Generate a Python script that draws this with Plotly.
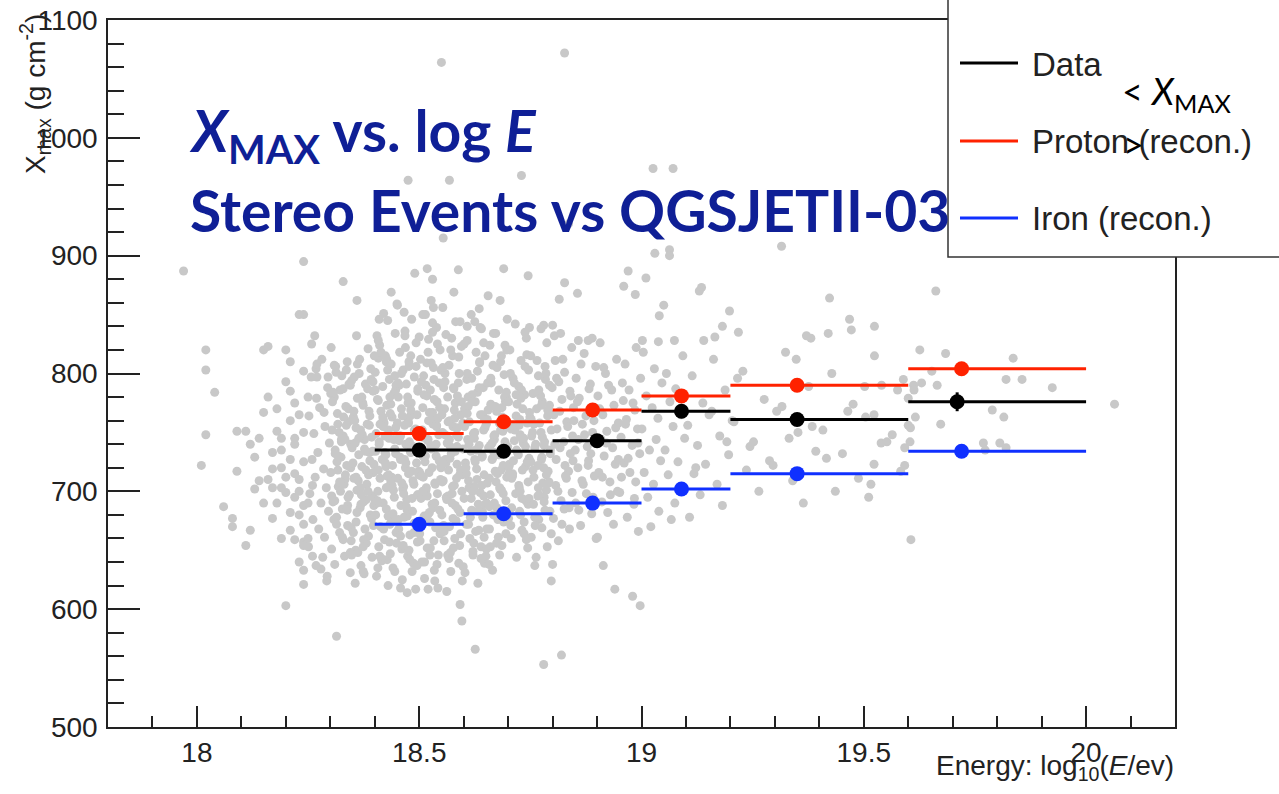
import plotly.graph_objects as go

# ---------------- binned means ----------------
bin_lo = [18.4, 18.6, 18.8, 19.0, 19.2, 19.6]
bin_hi = [18.6, 18.8, 19.0, 19.2, 19.6, 20.0]
data_x = [18.50, 18.69, 18.90, 19.09, 19.35, 19.71]
data_y = [735, 734, 743, 768, 761, 776]
data_err = [4, 4, 4, 5, 5, 8]
proton_x = [18.50, 18.69, 18.89, 19.09, 19.35, 19.72]
proton_y = [749, 759, 769, 781, 790, 804]
iron_x = [18.50, 18.69, 18.89, 19.09, 19.35, 19.72]
iron_y = [672, 681, 690, 702, 715, 734]

# ---------------- individual stereo events (logE, Xmax) ----------------
events_outer = [
    (17.97, 887), (18.02, 820), (18.02, 803), (18.04, 784), (18.02, 748), (18.01, 722), (18.06, 687),
    (18.08, 677), (18.08, 670), (18.09, 717), (18.09, 751), (18.11, 751), (18.11, 654), (18.12, 667),
    (18.13, 729), (18.14, 709), (18.13, 702), (18.15, 820), (18.16, 823), (18.20, 820), (18.21, 810),
    (18.20, 793), (18.21, 785), (18.15, 767), (18.18, 751), (18.17, 733), (18.21, 727), (18.17, 719),
    (18.19, 720), (18.17, 703), (18.19, 703), (18.20, 699), (18.15, 690), (18.17, 677), (18.21, 682),
    (18.21, 667), (18.22, 659), (18.23, 680), (18.24, 657), (18.24, 654), (18.24, 672), (18.24, 633),
    (18.24, 621), (18.20, 603), (18.24, 850), (18.24, 802), (18.24, 750), (18.24, 895), (18.23, 850),
    (18.22, 740), (18.23, 710), (18.22, 695), (18.24, 688), (18.23, 765), (18.19, 745), (18.24, 725),
    (18.21, 760), (18.268, 804), (18.27, 797), (18.295, 797), (18.286, 767), (18.265, 832),
    (18.258, 825), (18.279, 634), (18.292, 624), (18.309, 807), (18.336, 803), (18.329, 787),
    (18.345, 790), (18.329, 878), (18.314, 577), (18.36, 862), (18.356, 622), (18.374, 632),
    (18.437, 869), (18.42, 851), (18.41, 846), (18.405, 832), (18.408, 813), (18.426, 810),
    (18.407, 635), (18.428, 642), (18.445, 632), (18.45, 859), (18.466, 852), (18.458, 618),
    (18.473, 614), (18.49, 885), (18.475, 964), (18.508, 850), (18.532, 856), (18.53, 843),
    (18.5, 831), (18.518, 889), (18.53, 880), (18.52, 617), (18.535, 624), (18.54, 638),
    (18.55, 1064), (18.554, 915), (18.568, 964), (18.578, 869), (18.592, 844), (18.588, 888),
    (18.596, 590), (18.608, 840), (18.625, 844), (18.637, 839), (18.635, 855), (18.645, 826),
    (18.626, 566), (18.65, 645), (18.66, 653), (18.655, 866), (18.682, 862), (18.667, 834),
    (18.693, 824), (18.69, 889), (18.665, 633), (18.738, 835), (18.748, 839), (18.745, 883),
    (18.73, 968), (18.78, 841), (18.8, 841), (18.797, 624), (18.8, 638), (18.76, 637), (18.78, 553),
    (18.804, 832), (18.827, 877), (18.815, 863), (18.827, 1072), (18.836, 927), (18.82, 561),
    (18.856, 868), (18.858, 828), (18.88, 828), (18.914, 637), (18.94, 617), (18.97, 887),
    (18.96, 874), (18.986, 867), (18.98, 611), (18.997, 603), (19.01, 881), (19.002, 828),
    (19.038, 827), (19.04, 849), (19.05, 858), (19.03, 902), (19.026, 974), (19.063, 905),
    (19.063, 900), (19.071, 974), (19.074, 828), (19.135, 873), (19.13, 870), (19.14, 828),
    (19.165, 831), (19.198, 853), (19.182, 840), (19.218, 835), (19.315, 908), (19.371, 832),
    (19.381, 830), (19.423, 864), (19.468, 846), (19.472, 837), (19.42, 834), (19.524, 840),
    (19.502, 789), (19.523, 765), (19.539, 741), (19.523, 723), (19.511, 695), (19.583, 717),
    (19.589, 795), (19.592, 737), (19.662, 870), (19.626, 820), (19.684, 817), (19.836, 813),
    (19.653, 802), (19.63, 792), (19.612, 790), (19.613, 786), (19.665, 790), (19.82, 795),
    (19.856, 795), (19.924, 788), (20.064, 774), (19.6, 779), (19.789, 769), (19.815, 763),
    (19.616, 763), (19.673, 757), (19.6, 756), (19.605, 754), (19.604, 742), (19.769, 741),
    (19.806, 741), (19.773, 735), (19.82, 737), (19.606, 659),
    (18.16, 780), (18.18, 770), (18.14, 745), (18.19, 735), (18.16, 710), (18.22, 715), (18.18, 690),
    (18.23, 700), (18.20, 712), (18.22, 745), (18.25, 690), (18.26, 705), (18.12, 740), (18.22, 775),
    (18.19, 660), (18.23, 640), (18.26, 645), (18.25, 660), (18.27, 808), (18.25, 780),
]

events_1825 = [
    (18.281, 812), (18.257, 797), (18.294, 788), (18.269, 779), (18.276, 771), (18.252, 764),
    (18.288, 755), (18.263, 749), (18.298, 741), (18.272, 733), (18.259, 727), (18.285, 719),
    (18.266, 712), (18.291, 703), (18.254, 698), (18.279, 690), (18.296, 683), (18.261, 676),
    (18.274, 668), (18.287, 661), (18.251, 653), (18.283, 644), (18.268, 637), (18.293, 628),
]
events_1830 = [
    (18.302, 822), (18.338, 810), (18.313, 801), (18.348, 794), (18.322, 786), (18.309, 780),
    (18.335, 772), (18.316, 766), (18.341, 759), (18.304, 752), (18.329, 747), (18.346, 740),
    (18.311, 735), (18.324, 729), (18.337, 722), (18.301, 716), (18.333, 710), (18.318, 704),
    (18.343, 697), (18.306, 691), (18.327, 685), (18.314, 678), (18.339, 671), (18.321, 665),
    (18.347, 658), (18.303, 651), (18.332, 645), (18.310, 638), (18.345, 631), (18.325, 742),
    (18.317, 718), (18.340, 695),
    (18.312, 806), (18.342, 791), (18.305, 776), (18.330, 763), (18.320, 750), (18.349, 737),
    (18.315, 725), (18.334, 714), (18.323, 700), (18.339, 688), (18.308, 676), (18.327, 661),
    (18.345, 648), (18.301, 783), (18.336, 756), (18.318, 730), (18.331, 706), (18.310, 692),
    (18.347, 669), (18.325, 744),
    (18.326, 798), (18.306, 784), (18.341, 770), (18.317, 757), (18.333, 744), (18.311, 732),
    (18.346, 720), (18.321, 708), (18.303, 696), (18.338, 684), (18.314, 672), (18.329, 659),
    (18.348, 646),
]
events_1835 = [
    (18.359, 832), (18.385, 821), (18.366, 812), (18.391, 804), (18.354, 797), (18.379, 791),
    (18.396, 785), (18.361, 779), (18.374, 773), (18.387, 768), (18.351, 762), (18.383, 757),
    (18.368, 752), (18.393, 746), (18.356, 741), (18.377, 736), (18.364, 731), (18.389, 726),
    (18.371, 721), (18.397, 716), (18.353, 711), (18.382, 706), (18.360, 701), (18.395, 696),
    (18.375, 691), (18.367, 686), (18.390, 680), (18.358, 674), (18.378, 668), (18.386, 662),
    (18.381, 656), (18.357, 650), (18.394, 644), (18.369, 637), (18.376, 630), (18.352, 763),
    (18.388, 733), (18.363, 709), (18.398, 688), (18.372, 748),
    (18.399, 815), (18.365, 800), (18.384, 787), (18.373, 775), (18.389, 764), (18.358, 754),
    (18.377, 744), (18.395, 734), (18.351, 724), (18.386, 714), (18.368, 703), (18.381, 693),
    (18.360, 682), (18.397, 671), (18.375, 659), (18.362, 648), (18.392, 795), (18.355, 760),
    (18.380, 718), (18.370, 697),
    (18.361, 808), (18.396, 793), (18.371, 780), (18.353, 768), (18.388, 756), (18.364, 745),
    (18.379, 734), (18.398, 723), (18.358, 712), (18.385, 700), (18.369, 689), (18.393, 677),
    (18.352, 665), (18.374, 653),
]
events_1840 = [
    (18.429, 845), (18.446, 834), (18.411, 824), (18.424, 815), (18.437, 808), (18.401, 801),
    (18.433, 795), (18.418, 789), (18.443, 783), (18.406, 778), (18.427, 773), (18.414, 768),
    (18.439, 763), (18.421, 758), (18.447, 754), (18.403, 749), (18.432, 745), (18.410, 740),
    (18.445, 736), (18.425, 731), (18.417, 727), (18.440, 722), (18.408, 718), (18.428, 713),
    (18.436, 709), (18.431, 704), (18.407, 700), (18.444, 695), (18.419, 690), (18.426, 685),
    (18.402, 680), (18.438, 675), (18.413, 670), (18.448, 665), (18.422, 659), (18.409, 653),
    (18.435, 647), (18.416, 641), (18.441, 635), (18.404, 628), (18.430, 620), (18.447, 786),
    (18.412, 757), (18.423, 733), (18.438, 712), (18.400, 693), (18.434, 672), (18.419, 761),
    (18.408, 828), (18.427, 812), (18.445, 798), (18.401, 786), (18.436, 774), (18.418, 763),
    (18.431, 752), (18.410, 742), (18.447, 732), (18.425, 721), (18.412, 711), (18.442, 701),
    (18.405, 690), (18.430, 679), (18.420, 668), (18.449, 656), (18.415, 643), (18.434, 780),
    (18.423, 747), (18.439, 705),
    (18.414, 818), (18.429, 803), (18.448, 790), (18.408, 777), (18.435, 766), (18.419, 755),
    (18.443, 744), (18.402, 734), (18.424, 724), (18.431, 714), (18.426, 703), (18.406, 692),
    (18.441, 681), (18.417, 669), (18.433, 657), (18.411, 645),
]
events_1845 = [
    (18.451, 858), (18.483, 846), (18.468, 836), (18.493, 826), (18.456, 818), (18.477, 810),
    (18.464, 803), (18.489, 797), (18.471, 791), (18.497, 785), (18.453, 780), (18.482, 775),
    (18.460, 770), (18.495, 765), (18.475, 760), (18.467, 756), (18.490, 751), (18.458, 747),
    (18.478, 742), (18.486, 738), (18.481, 733), (18.457, 729), (18.494, 724), (18.469, 720),
    (18.476, 715), (18.452, 711), (18.488, 706), (18.463, 702), (18.498, 697), (18.472, 693),
    (18.459, 688), (18.485, 683), (18.466, 678), (18.491, 673), (18.454, 668), (18.479, 663),
    (18.496, 657), (18.461, 651), (18.474, 645), (18.487, 639), (18.484, 632), (18.462, 625),
    (18.492, 617), (18.455, 790), (18.480, 764), (18.470, 740), (18.499, 717), (18.465, 698),
    (18.473, 679), (18.489, 752), (18.458, 727), (18.477, 806),
    (18.468, 832), (18.481, 815), (18.460, 800), (18.497, 787), (18.475, 775), (18.462, 764),
    (18.492, 753), (18.455, 743), (18.480, 734), (18.470, 724), (18.499, 714), (18.465, 704),
    (18.484, 694), (18.473, 684), (18.489, 673), (18.458, 662), (18.477, 650), (18.495, 637),
    (18.451, 758), (18.486, 709),
    (18.469, 822), (18.493, 806), (18.452, 792), (18.474, 780), (18.481, 769), (18.476, 758),
    (18.456, 747), (18.491, 737), (18.467, 727), (18.483, 717), (18.461, 707), (18.496, 697),
    (18.471, 687), (18.453, 676), (18.488, 665), (18.464, 654), (18.479, 642),
]
events_1850 = [
    (18.527, 862), (18.514, 850), (18.539, 839), (18.521, 829), (18.547, 820), (18.503, 812),
    (18.532, 805), (18.510, 798), (18.545, 792), (18.525, 786), (18.517, 781), (18.540, 776),
    (18.508, 771), (18.528, 766), (18.536, 761), (18.531, 757), (18.507, 752), (18.544, 748),
    (18.519, 743), (18.526, 739), (18.502, 734), (18.538, 730), (18.513, 725), (18.548, 721),
    (18.522, 716), (18.509, 712), (18.535, 707), (18.516, 703), (18.541, 698), (18.504, 694),
    (18.529, 689), (18.546, 684), (18.511, 679), (18.524, 674), (18.537, 669), (18.501, 664),
    (18.533, 658), (18.518, 652), (18.543, 646), (18.506, 640), (18.534, 633), (18.512, 626),
    (18.542, 618), (18.505, 793), (18.530, 767), (18.520, 744), (18.549, 720), (18.515, 701),
    (18.523, 682), (18.539, 755), (18.508, 730), (18.527, 809),
    (18.530, 835), (18.520, 818), (18.549, 803), (18.515, 790), (18.534, 778), (18.523, 767),
    (18.539, 756), (18.508, 746), (18.527, 736), (18.545, 726), (18.501, 716), (18.536, 706),
    (18.518, 696), (18.531, 686), (18.510, 675), (18.547, 664), (18.525, 652), (18.512, 640),
    (18.542, 762), (18.505, 713),
    (18.541, 825), (18.517, 809), (18.533, 795), (18.511, 782), (18.546, 771), (18.521, 760),
    (18.503, 750), (18.538, 740), (18.514, 730), (18.529, 720), (18.548, 710), (18.508, 700),
    (18.535, 690), (18.519, 680), (18.543, 669), (18.502, 658), (18.524, 646),
]
events_1855 = [
    (18.553, 856), (18.582, 844), (18.560, 833), (18.595, 823), (18.575, 815), (18.567, 807),
    (18.590, 800), (18.558, 793), (18.578, 787), (18.586, 781), (18.581, 775), (18.557, 770),
    (18.594, 765), (18.569, 760), (18.576, 755), (18.552, 750), (18.588, 746), (18.563, 741),
    (18.598, 736), (18.572, 732), (18.559, 727), (18.585, 723), (18.566, 718), (18.591, 714),
    (18.554, 709), (18.579, 705), (18.596, 700), (18.561, 695), (18.574, 690), (18.587, 685),
    (18.551, 680), (18.583, 675), (18.568, 670), (18.593, 664), (18.556, 658), (18.577, 652),
    (18.564, 646), (18.589, 639), (18.571, 632), (18.597, 624), (18.562, 615), (18.592, 604),
    (18.555, 788), (18.580, 762), (18.570, 738), (18.599, 716), (18.565, 696), (18.584, 748),
    (18.573, 830), (18.589, 814), (18.558, 800), (18.577, 788), (18.595, 776), (18.551, 765),
    (18.586, 754), (18.568, 744), (18.581, 734), (18.560, 724), (18.597, 714), (18.575, 704),
    (18.562, 693), (18.592, 682), (18.555, 671), (18.580, 660), (18.570, 648), (18.599, 636),
    (18.565, 759), (18.584, 711),
    (18.571, 820), (18.553, 805), (18.588, 792), (18.564, 780), (18.579, 769), (18.598, 758),
    (18.558, 748), (18.585, 738), (18.569, 728), (18.593, 718), (18.552, 708), (18.574, 698),
    (18.581, 688), (18.576, 677), (18.556, 666), (18.591, 654), (18.567, 643),
]
events_1860 = [
    (18.617, 850), (18.640, 838), (18.608, 828), (18.628, 818), (18.636, 810), (18.631, 802),
    (18.607, 795), (18.644, 788), (18.619, 782), (18.626, 776), (18.602, 770), (18.638, 765),
    (18.613, 759), (18.648, 754), (18.622, 749), (18.609, 744), (18.635, 739), (18.616, 734),
    (18.641, 729), (18.604, 724), (18.629, 719), (18.646, 714), (18.611, 709), (18.624, 704),
    (18.637, 699), (18.601, 694), (18.633, 689), (18.618, 684), (18.643, 678), (18.606, 672),
    (18.627, 666), (18.614, 660), (18.639, 653), (18.621, 646), (18.647, 639), (18.603, 631),
    (18.632, 622), (18.610, 780), (18.645, 752), (18.625, 727), (18.612, 703), (18.642, 683),
    (18.601, 825), (18.636, 809), (18.618, 796), (18.631, 784), (18.610, 772), (18.647, 761),
    (18.625, 750), (18.612, 740), (18.642, 730), (18.605, 720), (18.630, 710), (18.620, 700),
    (18.649, 689), (18.615, 678), (18.634, 667), (18.623, 656), (18.639, 643), (18.608, 766),
    (18.627, 735), (18.645, 696),
    (18.648, 815), (18.608, 800), (18.635, 788), (18.619, 776), (18.643, 765), (18.602, 755),
    (18.624, 745), (18.631, 735), (18.626, 725), (18.606, 715), (18.641, 705), (18.617, 694),
    (18.633, 683), (18.611, 672), (18.646, 661), (18.621, 649),
]
events_1865 = [
    (18.698, 846), (18.672, 834), (18.659, 824), (18.685, 815), (18.666, 807), (18.691, 799),
    (18.654, 792), (18.679, 786), (18.696, 780), (18.661, 774), (18.674, 768), (18.687, 763),
    (18.651, 757), (18.683, 752), (18.668, 747), (18.693, 742), (18.656, 737), (18.677, 732),
    (18.664, 727), (18.689, 722), (18.671, 717), (18.697, 712), (18.653, 707), (18.682, 702),
    (18.660, 697), (18.695, 692), (18.675, 686), (18.667, 680), (18.690, 674), (18.658, 668),
    (18.678, 661), (18.686, 654), (18.681, 646), (18.657, 638), (18.694, 776), (18.669, 744),
    (18.676, 715), (18.652, 690),
    (18.697, 820), (18.675, 805), (18.662, 792), (18.692, 780), (18.655, 769), (18.680, 758),
    (18.670, 748), (18.699, 738), (18.665, 728), (18.684, 718), (18.673, 708), (18.689, 698),
    (18.658, 687), (18.677, 676), (18.695, 664), (18.651, 651), (18.686, 771), (18.668, 733),
    (18.681, 703), (18.660, 739),
    (18.683, 810), (18.661, 796), (18.696, 784), (18.671, 772), (18.653, 761), (18.688, 751),
    (18.664, 741), (18.679, 731), (18.698, 721), (18.658, 711), (18.685, 701), (18.669, 690),
    (18.693, 679), (18.652, 668), (18.674, 656),
]
events_1870 = [
    (18.716, 842), (18.741, 830), (18.704, 820), (18.729, 811), (18.746, 803), (18.711, 796),
    (18.724, 789), (18.737, 782), (18.701, 776), (18.733, 770), (18.718, 764), (18.743, 758),
    (18.706, 753), (18.727, 748), (18.714, 743), (18.739, 738), (18.721, 733), (18.747, 728),
    (18.703, 723), (18.732, 718), (18.710, 713), (18.745, 708), (18.725, 703), (18.717, 698),
    (18.740, 692), (18.708, 686), (18.728, 680), (18.736, 674), (18.731, 667), (18.707, 660),
    (18.744, 652), (18.719, 644), (18.726, 761), (18.702, 721),
    (18.742, 816), (18.705, 800), (18.730, 786), (18.720, 774), (18.749, 763), (18.715, 752),
    (18.734, 741), (18.723, 731), (18.739, 721), (18.708, 711), (18.727, 700), (18.745, 689),
    (18.701, 677), (18.736, 664), (18.718, 782), (18.731, 745), (18.710, 715), (18.747, 694),
    (18.725, 756), (18.712, 726),
    (18.738, 806), (18.714, 792), (18.729, 779), (18.748, 767), (18.708, 756), (18.735, 745),
    (18.719, 735), (18.743, 725), (18.702, 715), (18.724, 705), (18.731, 694), (18.726, 683),
    (18.706, 671), (18.741, 659),
]
events_1875 = [
    (18.774, 838), (18.787, 826), (18.751, 815), (18.783, 806), (18.768, 798), (18.793, 790),
    (18.756, 783), (18.777, 776), (18.764, 770), (18.789, 764), (18.771, 758), (18.797, 752),
    (18.753, 747), (18.782, 742), (18.760, 737), (18.795, 732), (18.775, 727), (18.767, 722),
    (18.790, 717), (18.758, 712), (18.778, 707), (18.786, 701), (18.781, 695), (18.757, 689),
    (18.794, 683), (18.769, 676), (18.776, 669), (18.752, 661), (18.788, 653), (18.763, 644),
    (18.765, 811), (18.784, 795), (18.773, 781), (18.789, 769), (18.758, 757), (18.777, 746),
    (18.795, 735), (18.751, 725), (18.786, 714), (18.768, 703), (18.781, 691), (18.760, 678),
    (18.797, 664), (18.775, 773), (18.762, 740), (18.792, 708), (18.755, 750), (18.780, 720),
    (18.770, 697), (18.799, 788),
    (18.785, 800), (18.769, 786), (18.793, 773), (18.752, 761), (18.774, 750), (18.781, 739),
    (18.776, 729), (18.756, 718), (18.791, 707), (18.767, 696), (18.783, 684), (18.761, 671),
]
events_1880 = [
    (18.818, 834), (18.843, 822), (18.806, 811), (18.827, 801), (18.814, 793), (18.839, 785),
    (18.821, 778), (18.847, 771), (18.803, 765), (18.832, 759), (18.810, 753), (18.845, 747),
    (18.825, 742), (18.817, 737), (18.840, 732), (18.808, 727), (18.828, 722), (18.836, 717),
    (18.831, 711), (18.807, 705), (18.844, 699), (18.819, 692), (18.826, 685), (18.802, 677),
    (18.838, 668), (18.813, 658),
    (18.823, 812), (18.809, 796), (18.841, 781), (18.816, 768), (18.834, 755), (18.805, 740),
    (18.846, 726), (18.829, 713), (18.812, 700), (18.837, 686), (18.821, 672), (18.848, 760),
]
events_1885 = [
    (18.889, 830), (18.871, 817), (18.897, 806), (18.853, 796), (18.882, 787), (18.860, 779),
    (18.895, 771), (18.875, 764), (18.867, 757), (18.890, 750), (18.858, 744), (18.878, 738),
    (18.886, 732), (18.881, 726), (18.857, 720), (18.894, 713), (18.869, 706), (18.876, 698),
    (18.852, 690), (18.888, 681), (18.863, 671), (18.898, 660),
    (18.864, 808), (18.885, 791), (18.856, 776), (18.893, 760), (18.872, 748), (18.851, 735),
    (18.880, 722), (18.866, 709), (18.891, 695), (18.859, 684),
]
events_1890 = [
    (18.907, 826), (18.944, 812), (18.919, 800), (18.926, 790), (18.902, 781), (18.938, 773),
    (18.913, 765), (18.948, 758), (18.922, 751), (18.909, 744), (18.935, 737), (18.916, 730),
    (18.941, 723), (18.904, 716), (18.929, 708), (18.946, 700), (18.911, 691), (18.924, 682),
    (18.937, 672), (18.901, 661),
    (18.915, 805), (18.933, 786), (18.906, 770), (18.942, 754), (18.921, 741), (18.948, 727),
    (18.912, 712), (18.930, 697),
]
events_1895 = [
    (18.988, 822), (18.963, 808), (18.998, 796), (18.972, 786), (18.959, 777), (18.985, 769),
    (18.966, 761), (18.991, 753), (18.954, 746), (18.979, 739), (18.996, 732), (18.961, 724),
    (18.974, 716), (18.987, 708), (18.951, 699), (18.983, 689), (18.968, 678), (18.993, 666),
    (18.957, 792), (18.981, 775), (18.964, 757), (18.992, 741), (18.970, 728), (18.955, 712),
    (18.984, 694),
]
events_1900 = [
    (19.004, 818), (19.029, 804), (19.046, 792), (19.011, 781), (19.024, 771), (19.037, 762),
    (19.001, 753), (19.033, 744), (19.018, 735), (19.043, 726), (19.006, 716), (19.027, 706),
    (19.014, 695), (19.039, 683), (19.021, 670), (19.093, 815), (19.056, 800), (19.077, 787),
    (19.064, 776), (19.089, 765), (19.071, 755), (19.097, 745), (19.053, 735), (19.082, 725),
    (19.060, 714), (19.095, 702), (19.075, 690), (19.067, 676),
]
events_1910 = [
    (19.162, 812), (19.114, 798), (19.188, 786), (19.138, 775), (19.152, 765), (19.104, 756),
    (19.176, 747), (19.126, 739), (19.196, 731), (19.144, 723), (19.118, 715), (19.170, 706),
    (19.132, 697), (19.182, 688), (19.108, 678), (19.158, 768), (19.192, 742), (19.122, 720),
    (19.324, 818), (19.228, 802), (19.376, 789), (19.276, 778), (19.304, 768), (19.208, 759),
    (19.352, 750), (19.252, 742), (19.392, 734), (19.288, 726), (19.236, 718), (19.340, 709),
    (19.264, 700), (19.364, 690), (19.216, 796), (19.316, 772), (19.384, 755), (19.244, 738),
    (19.296, 722), (19.348, 812), (19.204, 760), (19.332, 745),
    (19.524, 815), (19.428, 800), (19.576, 786), (19.476, 774), (19.504, 763), (19.408, 752),
    (19.552, 742), (19.452, 732), (19.592, 722), (19.488, 711), (19.436, 700), (19.540, 790),
    (19.464, 768), (19.564, 748), (19.416, 728), (19.516, 706),
]

all_events = (events_outer + events_1825 + events_1830 + events_1835 + events_1840 + events_1845
              + events_1850 + events_1855 + events_1860 + events_1865 + events_1870 + events_1875
              + events_1880 + events_1885 + events_1890 + events_1895 + events_1900 + events_1910)
ev_logE = [p[0] for p in all_events]
ev_xmax = [p[1] for p in all_events]

# ---------------- figure ----------------
L, R, T, B = 108, 1175, 20, 727
W, H = R - L, B - T


def px(x):
    return (x - L) / W


def py(y):
    return (B - y) / H


RED = "#ff2200"
BLUE = "#1030ff"
GRAY = "#c8c8c8"
AXC = "#222222"

fig = go.Figure()
fig.add_trace(go.Scatter(x=ev_logE, y=ev_xmax, mode="markers",
                         marker=dict(size=9, color=GRAY, line=dict(width=0)), hoverinfo="skip"))


def binned(xs, ys, color, err=None):
    ex = dict(type="data", symmetric=False,
              array=[h - x for h, x in zip(bin_hi, xs)],
              arrayminus=[x - l for l, x in zip(bin_lo, xs)],
              width=0, thickness=3, color=color)
    ey = dict(type="data", array=err, width=0, thickness=3, color=color, visible=err is not None)
    return go.Scatter(x=xs, y=ys, mode="markers", error_x=ex, error_y=ey,
                      marker=dict(size=15, color=color, line=dict(width=0)))


fig.add_trace(binned(proton_x, proton_y, RED))
fig.add_trace(binned(iron_x, iron_y, BLUE))
fig.add_trace(binned(data_x, data_y, "black", data_err))

tickfont = dict(family="Liberation Sans, Arial, sans-serif", size=28, color=AXC)
fig.update_layout(
    width=1279, height=794,
    margin=dict(l=L, r=1279 - R, t=T, b=794 - B, autoexpand=False),
    paper_bgcolor="white", plot_bgcolor="white",
    showlegend=False,
    xaxis=dict(range=[17.8, 20.2], tick0=18, dtick=0.5, ticks="inside", ticklen=21, tickwidth=1.5,
               tickcolor=AXC, showline=True, linecolor=AXC, linewidth=1.5, mirror=True,
               showgrid=False, zeroline=False, tickfont=tickfont, automargin=False,
               minor=dict(dtick=0.1, ticks="inside", ticklen=11, tickwidth=1.5, tickcolor=AXC,
                          showgrid=False)),
    yaxis=dict(range=[500, 1100], tick0=500, dtick=100, ticks="inside", ticklen=32, tickwidth=1.5,
               tickcolor=AXC, showline=True, linecolor=AXC, linewidth=1.5, mirror=True,
               showgrid=False, zeroline=False, tickfont=tickfont, automargin=False,
               ticklabelstandoff=3,
               minor=dict(dtick=20, ticks="inside", ticklen=16, tickwidth=1.5, tickcolor=AXC,
                          showgrid=False)),
)

shapes = [
    dict(type="rect", xref="paper", yref="paper", x0=px(948), x1=px(1295), y0=py(257), y1=py(-10),
         line=dict(color="#333333", width=1.5), fillcolor="white", layer="above"),
]
for yy, col in [(63, "black"), (141, RED), (218, BLUE)]:
    shapes.append(dict(type="line", xref="paper", yref="paper", x0=px(960), x1=px(1018),
                       y0=py(yy), y1=py(yy), line=dict(color=col, width=3), layer="above"))
fig.update_layout(shapes=shapes)

helv = "Liberation Sans, Arial, sans-serif"
title_font = dict(family="Lato, Open Sans, sans-serif", size=57, color="#0f1f96")
ann = [
    dict(text="Data Stereo", x=px(1032), y=py(-16), xanchor="left", yanchor="middle",
         font=dict(family=helv, size=32, color="#aaaaaa")),
    dict(text="Data", x=px(1030), y=py(65), xanchor="left", yanchor="middle",
         font=dict(family=helv, size=33, color=AXC)),
    dict(text="Proton (recon.)", x=px(1030), y=py(141), xanchor="left", yanchor="middle",
         font=dict(family=helv, size=33, color=AXC)),
    dict(text="Iron (recon.)", x=px(1030), y=py(218), xanchor="left", yanchor="middle",
         font=dict(family=helv, size=33, color=AXC)),
    dict(text="&lt; <i>X</i><sub>MAX</sub>", x=px(1120), y=py(94), xanchor="left", yanchor="middle",
         font=dict(family="Lato, sans-serif", size=36, color="black")),
    dict(text="&gt;", x=px(1121), y=py(144), xanchor="left", yanchor="middle",
         font=dict(family="Lato, sans-serif", size=36, color="black")),
    dict(text="<b><i>X</i><sub>MAX</sub> vs. log <i>E</i></b>", x=px(187), y=py(134),
         xanchor="left", yanchor="middle", font=title_font),
    dict(text="<b>Stereo Events vs QGSJETII-03</b>", x=px(188), y=py(210),
         xanchor="left", yanchor="middle", font=title_font),
    dict(text="X<sub>max</sub> (g cm<sup>-2</sup>)", x=px(35), y=py(12), xanchor="center",
         yanchor="top", textangle=-90, font=dict(family=helv, size=28, color=AXC)),
    dict(text="Energy: log<sub>10</sub>(<i>E</i>/ev)", x=px(1176), y=py(768), xanchor="right",
         yanchor="middle", font=dict(family=helv, size=28, color=AXC)),
]
for a in ann:
    a.update(xref="paper", yref="paper", showarrow=False)
fig.update_layout(annotations=ann)

fig.write_html("out.html")
